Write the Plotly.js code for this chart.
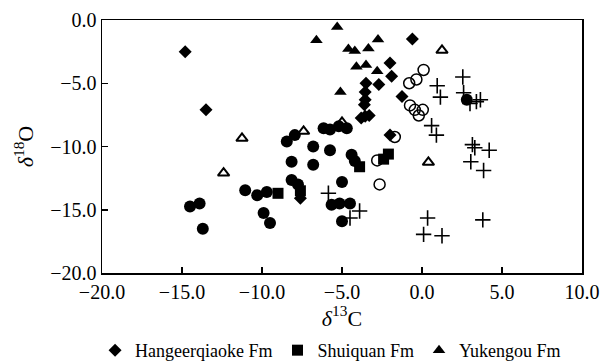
<!DOCTYPE html>
<html>
<head>
<meta charset="utf-8">
<script src="https://cdn.plot.ly/plotly-3.0.1.min.js"></script>
<style>html,body{margin:0;padding:0;background:#fff;}#chart{width:601px;height:364px;}</style>
</head>
<body>
<div id="chart"></div>
<script>
// Hangeerqiaoke Fm (filled diamonds)
const hangX = [-14.8, -13.5, -0.6, -2.0, -1.9, -2.7, -3.5, -3.55, -3.55, -3.6, -3.55, -3.3, -3.8, -1.25, -2.0, -7.6];
const hangY = [-2.5, -7.1, -1.5, -3.4, -4.45, -5.1, -5.0, -5.7, -6.3, -6.7, -7.6, -7.55, -7.75, -6.05, -9.1, -14.1];
// Shuiquan Fm (filled squares)
const shuiX = [-9.0, -7.6, -3.9, -2.4, -2.1];
const shuiY = [-13.7, -13.5, -11.6, -11.0, -10.6];
// Yukengou Fm (filled triangles)
const yukeX = [-5.3, -6.6, -4.6, -4.2, -3.35, -2.75, -4.1, -3.5, -2.8, -5.1];
const yukeY = [-0.55, -1.6, -2.3, -2.45, -2.25, -1.55, -3.7, -3.55, -4.05, -5.7];
// other groups (not listed in legend)
const dotX = [-14.5, -13.9, -13.7, -11.05, -10.3, -9.7, -9.9, -9.5, -8.15, -7.75, -8.45, -7.95, -8.15, -6.8, -6.8, -5.75, -6.15, -5.75, -5.2, -4.7, -4.4, -4.2, -5.0, -5.65, -5.15, -4.5, -5.0, 2.8];
const dotY = [-14.75, -14.5, -16.5, -13.45, -13.85, -13.6, -15.25, -16.05, -12.65, -13.0, -9.6, -9.1, -11.2, -11.45, -10.0, -10.3, -8.55, -8.65, -8.4, -8.55, -10.65, -11.15, -12.8, -14.6, -14.5, -14.5, -15.9, -6.3];
const ringX = [0.1, -0.35, -0.8, -0.75, -0.45, 0.05, -0.2, -1.7, -2.8, -2.65];
const ringY = [-3.95, -4.7, -5.0, -6.75, -7.1, -7.1, -7.55, -9.25, -11.1, -13.0];
const openTriX = [-12.4, -11.25, -7.4, -5.0, 1.25, 0.4];
const openTriY = [-12.1, -9.35, -8.8, -8.1, -2.4, -11.25];
const crossX = [2.55, 0.95, 1.15, 2.6, 3.4, 3.65, 3.0, 0.6, 0.9, 3.15, 3.3, 4.2, 3.05, 3.85, 0.35, 0.1, 1.25, 3.8, -5.85, -3.9, -4.5];
const crossY = [-4.5, -5.2, -6.1, -5.75, -6.45, -6.3, -6.6, -8.35, -9.1, -9.85, -10.1, -10.3, -11.2, -11.9, -15.65, -16.95, -17.05, -15.8, -13.7, -15.1, -15.65];

const xTicks = [-20, -15, -10, -5, 0, 5, 10];
const yTicks = [0, -5, -10, -15, -20];

const serif = 'Liberation Serif, Times New Roman, serif';
function tr(x, y, name, symbol, size, show, lw) {
  return {
    x: x, y: y, type: 'scatter', mode: 'markers', name: name, showlegend: show,
    marker: {symbol: symbol, size: size, color: '#000', line: {color: '#000', width: lw || 0}},
    hoverinfo: 'x+y'
  };
}
const data = [
  tr(dotX, dotY, 'dots', 'circle', 12, false),
  tr(ringX, ringY, 'rings', 'circle-open', 11, false, 1.5),
  tr(openTriX, openTriY, 'open triangles', 'triangle-up-open', 10, false, 2),
  tr(crossX, crossY, 'crosses', 'cross-thin-open', 11, false, 1.6),
  tr(hangX, hangY, 'Hangeerqiaoke Fm', 'diamond', 10, true),
  tr(shuiX, shuiY, 'Shuiquan Fm', 'square', 11, true),
  tr(yukeX, yukeY, 'Yukengou Fm', 'triangle-up', 11, true)
];
const layout = {
  width: 601, height: 364,
  margin: {l: 102, r: 19, t: 20, b: 91, autoexpand: false},
  paper_bgcolor: '#fff', plot_bgcolor: '#fff',
  font: {family: serif, color: '#000', size: 20},
  showlegend: true,
  legend: {orientation: 'h', xref: 'container', x: 0.55, xanchor: 'center', yref: 'container', y: 0.088, yanchor: 'top',
    font: {family: serif, size: 18, color: '#000'}, itemwidth: 20, tracegroupgap: 0,
    traceorder: 'normal'},
  xaxis: {
    range: [-20, 10], tickvals: xTicks, ticktext: xTicks.map(v => (v < 0 ? '\u2212' : '') + Math.abs(v).toFixed(1)),
    ticks: 'inside', ticklen: 6, tickwidth: 1.5, tickcolor: '#000',
    showline: true, linecolor: '#000', linewidth: 1.5, mirror: true,
    showgrid: false, zeroline: false,
    tickfont: {family: serif, size: 20},
    title: {text: '<i>δ</i><sup>13</sup>C', font: {family: serif, size: 22}, standoff: 6}
  },
  yaxis: {
    range: [-20, 0], tickvals: yTicks, ticktext: yTicks.map(v => (v < 0 ? '\u2212' : '') + Math.abs(v).toFixed(1)),
    ticks: 'inside', ticklen: 6, tickwidth: 1.5, tickcolor: '#000',
    showline: true, linecolor: '#000', linewidth: 1.5, mirror: true,
    showgrid: false, zeroline: false,
    tickfont: {family: serif, size: 20},
    title: {text: '<i>δ</i><sup>18</sup>O', font: {family: serif, size: 22}, standoff: 10}
  }
};
Plotly.newPlot('chart', data, layout, {displayModeBar: false, staticPlot: true});
</script>
</body>
</html>
